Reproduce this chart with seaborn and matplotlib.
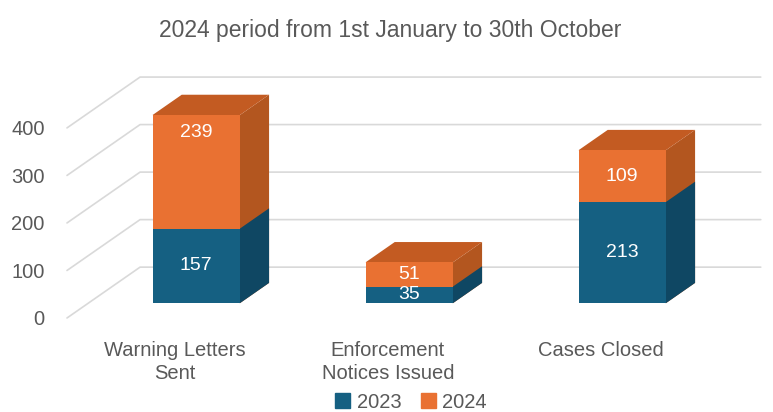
import numpy as np
import matplotlib.pyplot as plt
import seaborn as sns
from matplotlib.patches import Polygon, Patch

# data
categories = ["Warning Letters\nSent", "Enforcement\nNotices Issued", "Cases Closed"]
counts_2023 = [157, 35, 213]
counts_2024 = [239, 51, 109]
years = ["2023", "2024"]
y_ticks = [0, 100, 200, 300, 400]
title = "2024 period from 1st January to 30th October"

# colours (Office theme)
blue, orange = "#156082", "#E97132"
blue_side, orange_side, orange_top = "#0F4763", "#B3561F", "#C35B22"
grid_col = "#D9D9D9"
text_col = "#595959"

# fake 3D geometry: floor depth vector and where the bar sits in it
floor_dx, floor_dy = 0.343, 107
bar_front, bar_back = 0.29, 0.69

sns.set_theme(style="white")
plt.rcParams["font.family"] = ["Liberation Sans", "DejaVu Sans"]

fig = plt.figure(figsize=(7.73, 4.12), dpi=100)
ax = fig.add_axes([67 / 773, (412 - 335) / 412, (773 - 67) / 773, (335 - 40) / 412])

totals = [a + b for a, b in zip(counts_2023, counts_2024)]
sns.barplot(x=categories, y=totals, color=orange, width=0.41, saturation=1,
            errorbar=None, ax=ax, zorder=3)
sns.barplot(x=categories, y=counts_2023, color=blue, width=0.41, saturation=1,
            errorbar=None, ax=ax, zorder=3)

# seaborn sets its own limits, so fix them afterwards
ax.set_xlim(-0.507, 2.8075)
ax.set_ylim(-35.8, 585)

# back wall gridlines, slanted along the floor on the left
for v in y_ticks:
    ax.plot([-0.507, -0.507 + floor_dx, 2.75], [v, v + floor_dy, v + floor_dy],
            color=grid_col, lw=1.2, zorder=0, clip_on=False)

sx, sy = bar_front * floor_dx, bar_front * floor_dy
bx, by = (bar_back - bar_front) * floor_dx, (bar_back - bar_front) * floor_dy
n = len(categories)
bars = list(ax.patches)
for i, p in enumerate(bars):
    p.set_x(p.get_x() + sx)
    p.set_y(p.get_y() + sy)
    p.set_linewidth(0)
    x, y, w, h = p.get_x(), p.get_y(), p.get_width(), p.get_height()
    is_top = i < n
    side = Polygon([(x + w, y), (x + w + bx, y + by), (x + w + bx, y + h + by), (x + w, y + h)],
                   closed=True, fc=orange_side if is_top else blue_side, lw=0,
                   zorder=2 if is_top else 2.5)
    ax.add_patch(side)
    if is_top:
        top = Polygon([(x, y + h), (x + bx, y + h + by), (x + w + bx, y + h + by), (x + w, y + h)],
                      closed=True, fc=orange_top, lw=0, zorder=2)
        ax.add_patch(top)

# value labels on the front faces (Excel pushes tall top labels up)
for i in range(n):
    blue_bar = bars[n + i]
    cx = blue_bar.get_x() + blue_bar.get_width() / 2
    y0 = blue_bar.get_y()
    ax.text(cx, y0 + counts_2023[i] / 2, str(counts_2023[i]), ha="center", va="center",
            color="white", fontsize=14, zorder=5)
    h = counts_2024[i]
    drop = h / 2 if h < 200 else 36
    ax.text(cx, y0 + counts_2023[i] + h - drop, str(h), ha="center",
            va="center", color="white", fontsize=14, zorder=5)

ax.set_yticks(y_ticks)
ax.set_yticklabels([str(v) for v in y_ticks])
ax.set_xticks(range(n))
ax.set_xticklabels(categories, linespacing=1.3)
ax.tick_params(axis="both", length=0, labelsize=14.5, labelcolor=text_col)
ax.tick_params(axis="y", pad=16)
ax.tick_params(axis="x", pad=4)
ax.set_xlabel("")
ax.set_ylabel("")
for s in ax.spines.values():
    s.set_visible(False)

fig.text(0.505, 1 - 30 / 412, title, ha="center", va="center", fontsize=16.5, color=text_col)

handles = [Patch(color=blue), Patch(color=orange)]
fig.legend(handles, years, loc="center", bbox_to_anchor=(0.532, 1 - 402 / 412), ncol=2,
           frameon=False, fontsize=14.5, labelcolor=text_col, handlelength=0.75,
           handleheight=0.75, handletextpad=0.3, columnspacing=1.0)

fig.savefig("out.png", dpi=100)
